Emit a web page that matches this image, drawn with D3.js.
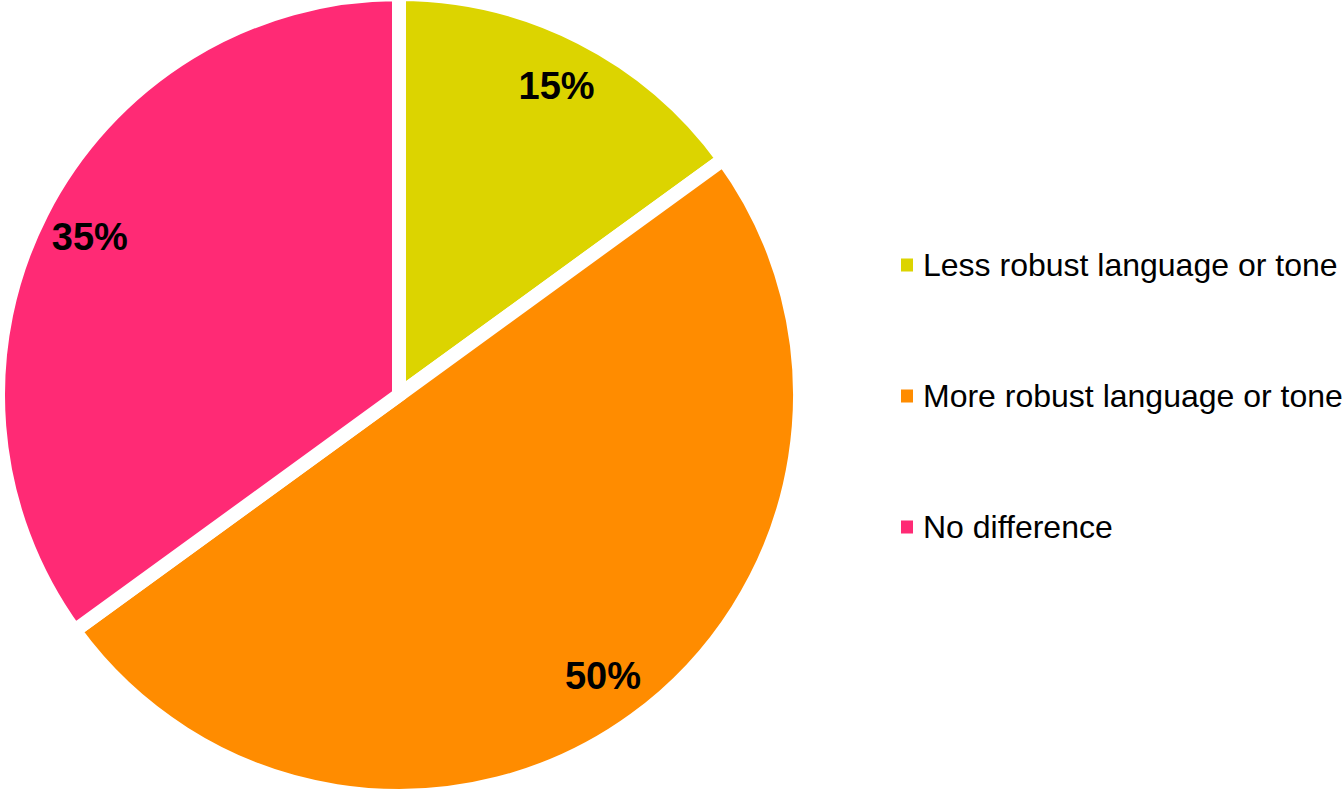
<!DOCTYPE html>
<html>
<head>
<meta charset="utf-8">
<script src="https://cdn.jsdelivr.net/npm/d3@7"></script>
<style>
  html, body { margin: 0; padding: 0; background: #fff; }
  svg { display: block; }
</style>
</head>
<body>
<svg id="chart" width="1344" height="791"></svg>
<script>
// Survey answers, in clockwise order from 12 o'clock
const categories = ["Less robust language or tone", "More robust language or tone", "No difference"];
const values = [15, 50, 35];
const colors = ["#DCD400", "#FF8C00", "#FF2A75"];

const svg = d3.select("#chart");
const cx = 399, cy = 395, r = 401;

const pie = d3.pie().sort(null).value(d => d.value);
const data = categories.map((c, i) => ({ name: c, value: values[i], color: colors[i] }));
const arcs = pie(data);

const arc = d3.arc().innerRadius(0).outerRadius(r);
const labelArc = d3.arc().innerRadius(347).outerRadius(347);

const g = svg.append("g").attr("transform", `translate(${cx},${cy})`);

g.selectAll("path.slice")
  .data(arcs)
  .join("path")
  .attr("class", "slice")
  .attr("d", arc)
  .attr("fill", d => d.data.color)
  .attr("stroke", "#fff")
  .attr("stroke-width", 14)
  .attr("stroke-linejoin", "miter");

g.selectAll("text.pct")
  .data(arcs)
  .join("text")
  .attr("class", "pct")
  .attr("transform", d => `translate(${labelArc.centroid(d)})`)
  .attr("text-anchor", "middle")
  .attr("dominant-baseline", "central")
  .attr("font-family", "Liberation Sans, Arial, sans-serif")
  .attr("font-weight", "bold")
  .attr("font-size", 38)
  .attr("fill", "#000")
  .text(d => d.data.value + "%");

// Legend
const legend = svg.append("g").attr("transform", "translate(901,265)");
const rowStep = 131;
const rows = legend.selectAll("g.row")
  .data(data)
  .join("g")
  .attr("class", "row")
  .attr("transform", (d, i) => `translate(0,${i * rowStep})`);

rows.append("rect")
  .attr("x", 0).attr("y", -6.5)
  .attr("width", 12).attr("height", 13)
  .attr("fill", d => d.color);

rows.append("text")
  .attr("x", 22)
  .attr("y", 0)
  .attr("dominant-baseline", "central")
  .attr("font-family", "Liberation Sans, Arial, sans-serif")
  .attr("font-size", 32)
  .attr("fill", "#000")
  .text(d => d.name);
</script>
</body>
</html>
